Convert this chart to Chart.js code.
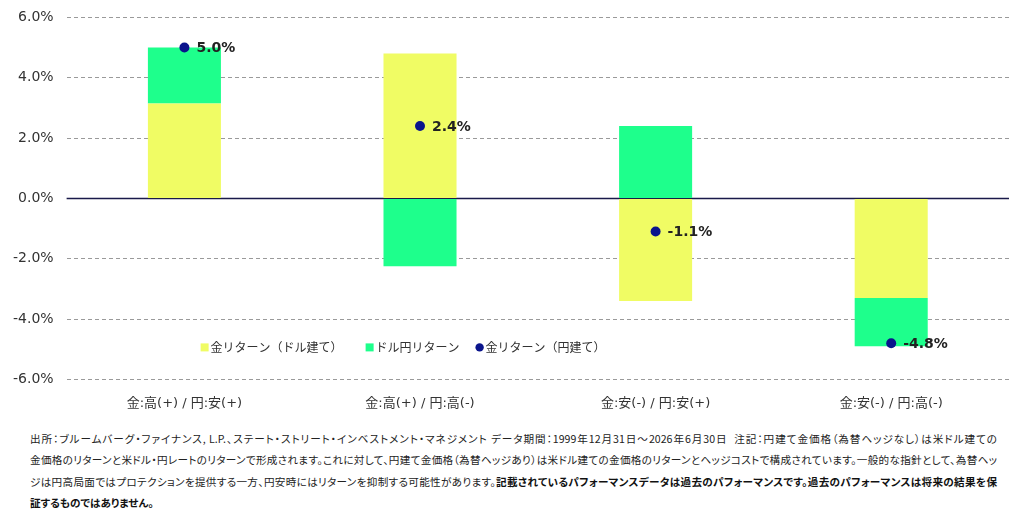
<!DOCTYPE html>
<html lang="ja">
<head>
<meta charset="utf-8">
<script src="https://cdn.jsdelivr.net/npm/chart.js@4.4.1/dist/chart.umd.min.js"></script>
<style>
    body { margin: 0; background: #ffffff; width: 1022px; height: 531px; overflow: hidden; }
    #wrap { position: relative; width: 1022px; height: 427px; margin-top: -4px; }
    #note {
        position: absolute; left: 30px; top: 428px; width: 967px;
        font-family: "Noto Sans CJK JP", sans-serif; font-size: 10.6px; line-height: 21.3px;
        color: #222222; font-feature-settings: "palt";
    }
    #note div { white-space: nowrap; text-align: justify; text-align-last: justify; }
    #note div.last { text-align-last: left; }
    #note b { font-weight: 700; color: #111111; }
</style>
</head>
<body>
<div id="wrap"><canvas id="chart"></canvas></div>
<div id="note">
<div>出所：ブルームバーグ・ファイナンス, L.P.、ステート・ストリート・インベストメント・マネジメント データ期間：1999年12月31日～2026年6月30日 &nbsp;注記：円建て金価格（為替ヘッジなし）は米ドル建ての</div>
<div>金価格のリターンと米ドル・円レートのリターンで形成されます。これに対して、円建て金価格（為替ヘッジあり）は米ドル建ての金価格のリターンとヘッジコストで構成されています。一般的な指針として、為替ヘッ</div>
<div>ジは円高局面ではプロテクションを提供する一方、円安時にはリターンを抑制する可能性があります。<b>記載されているパフォーマンスデータは過去のパフォーマンスです。過去のパフォーマンスは将来の結果を保</b></div>
<div class="last"><b>証するものではありません。</b></div>
</div>
<script>
const categories = ['金:高(+) / 円:安(+)', '金:高(+) / 円:高(-)', '金:安(-) / 円:安(+)', '金:安(-) / 円:高(-)'];
const goldUsd = [3.15, 4.8, -3.4, -3.3];
const usdJpy = [1.85, -2.25, 2.4, -1.6];
const goldJpy = [5.0, 2.4, -1.1, -4.8];
const yTicks = [-6, -4, -2, 0, 2, 4, 6];

const seriesNames = ['金リターン（ドル建て）', 'ドル円リターン', '金リターン（円建て）'];
const colYellow = '#f0fc64';
const colGreen = '#1eff8c';
const colNavy = '#0a148c';
const latin = '"DejaVu Sans", "Noto Sans CJK JP", sans-serif';

// zero line, point labels and legend drawn on the canvas
const extras = {
    id: 'extras',
    beforeDatasetsDraw(chart) {
        const { ctx, chartArea, scales } = chart;
        const y0 = scales.y.getPixelForValue(0);
        ctx.save();
        ctx.strokeStyle = '#1a1a4a';
        ctx.lineWidth = 1.5;
        ctx.beginPath();
        ctx.moveTo(chartArea.left, y0);
        ctx.lineTo(chartArea.right, y0);
        ctx.stroke();
        ctx.restore();
    },
    afterDatasetsDraw(chart) {
        const { ctx, chartArea } = chart;
        const meta = chart.getDatasetMeta(0);
        ctx.save();
        ctx.font = 'bold 14px ' + latin;
        ctx.fillStyle = '#222222';
        ctx.textBaseline = 'middle';
        meta.data.forEach((pt, i) => {
            ctx.fillText(goldJpy[i].toFixed(1) + '%', pt.x + 12, pt.y + 1);
        });

        // legend
        ctx.font = '12px ' + latin;
        const y = chartArea.bottom - 32;
        const items = [
            { name: seriesNames[0], color: colYellow, dot: false, x: 134 },
            { name: seriesNames[1], color: colGreen, dot: false, x: 299 },
            { name: seriesNames[2], color: colNavy, dot: true, x: 409 }
        ];
        items.forEach(it => {
            const x = chartArea.left + it.x;
            ctx.fillStyle = it.color;
            if (it.dot) {
                ctx.beginPath();
                ctx.arc(x + 4, y, 4.2, 0, Math.PI * 2);
                ctx.fill();
            } else {
                ctx.fillRect(x, y - 4, 8, 8);
            }
            ctx.fillStyle = '#333333';
            ctx.fillText(it.name, x + 10, y + 1);
        });
        ctx.restore();
    }
};

const ctx = document.getElementById('chart').getContext('2d');

const data = {
    labels: categories,
    datasets: [
        {
            type: 'line',
            label: seriesNames[2],
            data: goldJpy,
            stack: 'pts',
            showLine: false,
            pointRadius: 5,
            pointHoverRadius: 5,
            pointBackgroundColor: colNavy,
            pointBorderColor: colNavy,
            pointBorderWidth: 0
        },
        {
            type: 'bar',
            label: seriesNames[0],
            data: goldUsd,
            stack: 'bars',
            backgroundColor: colYellow,
            barPercentage: 0.31,
            categoryPercentage: 1
        },
        {
            type: 'bar',
            label: seriesNames[1],
            data: usdJpy,
            stack: 'bars',
            backgroundColor: colGreen,
            barPercentage: 0.31,
            categoryPercentage: 1
        }
    ]
};

const config = {
    data: data,
    options: {
        responsive: true,
        maintainAspectRatio: false,
        animation: false,
        layout: { padding: { left: 0, right: 13, top: 1, bottom: 4 } },
        scales: {
            x: {
                stacked: true,
                grid: { display: false },
                border: { display: false },
                ticks: {
                    color: '#333333',
                    padding: 8,
                    font: { family: latin, size: 13 }
                }
            },
            y: {
                stacked: true,
                min: -6,
                max: 6,
                afterBuildTicks: (axis) => { axis.ticks = yTicks.map(v => ({ value: v })); },
                border: { display: false, dash: [4, 3] },
                grid: {
                    color: (c) => c.tick && c.tick.value === 0 ? 'rgba(0,0,0,0)' : '#9a9a9a',
                    lineWidth: 1,
                    drawTicks: false
                },
                ticks: {
                    color: '#333333',
                    padding: 13,
                    font: { family: latin, size: 14 },
                    callback: (v) => Number(v).toFixed(1) + '%'
                }
            }
        },
        plugins: {
            legend: { display: false },
            tooltip: { enabled: false }
        }
    },
    plugins: [extras]
};

new Chart(ctx, config);
</script>
</body>
</html>
